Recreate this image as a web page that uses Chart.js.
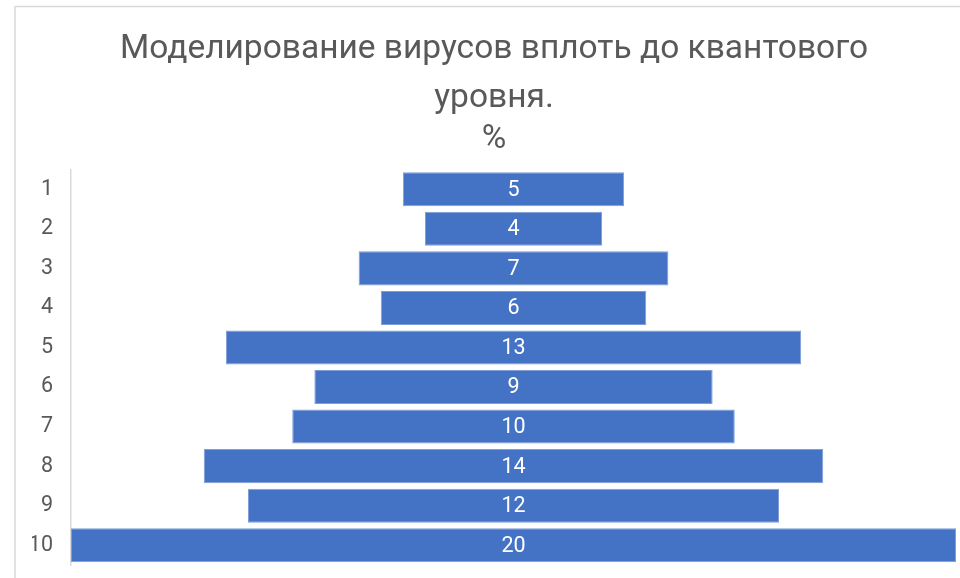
<!DOCTYPE html>
<html>
<head>
<meta charset="utf-8">
<script src="https://cdn.jsdelivr.net/npm/chart.js@4/dist/chart.umd.min.js"></script>
<style>
  html, body { margin: 0; padding: 0; background: #ffffff; overflow: hidden; }
  canvas { display: block; }
</style>
</head>
<body>
<canvas id="c" width="960" height="578"></canvas>
<script>
const categories = ['1', '2', '3', '4', '5', '6', '7', '8', '9', '10'];
const values = [5, 4, 7, 6, 13, 9, 10, 14, 12, 20];
const titleLines = ['Моделирование вирусов вплоть до квантового', 'уровня.'];
const subtitleText = '%';

const FONT = 'Roboto, "Open Sans", sans-serif';

const framePlugin = {
  id: 'frame',
  beforeDraw(chart) {
    const ctx = chart.ctx;
    ctx.save();
    ctx.fillStyle = '#ffffff';
    ctx.fillRect(0, 0, chart.width, chart.height);
    ctx.strokeStyle = '#d9d9d9';
    ctx.lineWidth = 1.5;
    ctx.strokeRect(15, 6.5, chart.width + 50, chart.height + 50);
    ctx.restore();
  }
};

const labelPlugin = {
  id: 'barLabels',
  afterDatasetsDraw(chart) {
    const ctx = chart.ctx;
    const meta = chart.getDatasetMeta(0);
    ctx.save();
    ctx.fillStyle = '#ffffff';
    ctx.font = '21.5px ' + FONT;
    ctx.textAlign = 'center';
    ctx.textBaseline = 'middle';
    meta.data.forEach((el, i) => {
      const cx = (el.x + el.base) / 2;
      ctx.fillText(String(values[i]), cx, el.y + 1);
    });
    ctx.restore();
  }
};

new Chart(document.getElementById('c'), {
  type: 'bar',
  data: {
    labels: categories,
    datasets: [{
      data: values.map(v => [-v / 2, v / 2]),
      backgroundColor: '#4472C4',
      borderColor: '#7f9ed8',
      borderWidth: 1,
      borderSkipped: false,
      barPercentage: 0.86,
      categoryPercentage: 1.0
    }]
  },
  options: {
    indexAxis: 'y',
    responsive: false,
    animation: false,
    layout: { padding: { top: 0, right: 4, bottom: 13, left: 32 } },
    plugins: {
      legend: { display: false },
      tooltip: { enabled: false },
      title: {
        display: true,
        text: titleLines,
        color: '#595959',
        font: { family: FONT, size: 33.5, weight: 'normal', lineHeight: 49 / 33.5 },
        padding: { top: 25, bottom: 0 }
      },
      subtitle: {
        display: true,
        text: subtitleText,
        color: '#595959',
        font: { family: FONT, size: 33.5, weight: 'normal', lineHeight: 1.0 },
        padding: { top: 0, bottom: 13 }
      }
    },
    scales: {
      x: {
        display: false,
        min: -10,
        max: 10
      },
      y: {
        grid: {
          display: true,
          drawOnChartArea: false,
          drawTicks: true,
          tickLength: 18,
          color: 'rgba(0,0,0,0)'
        },
        border: { display: true, color: '#d9d9d9', width: 1.5 },
        ticks: {
          color: '#595959',
          font: { family: FONT, size: 21.5 },
          padding: 0
        },
        afterFit(scale) { scale.width = 39; }
      }
    }
  },
  plugins: [framePlugin, labelPlugin]
});
</script>
</body>
</html>
